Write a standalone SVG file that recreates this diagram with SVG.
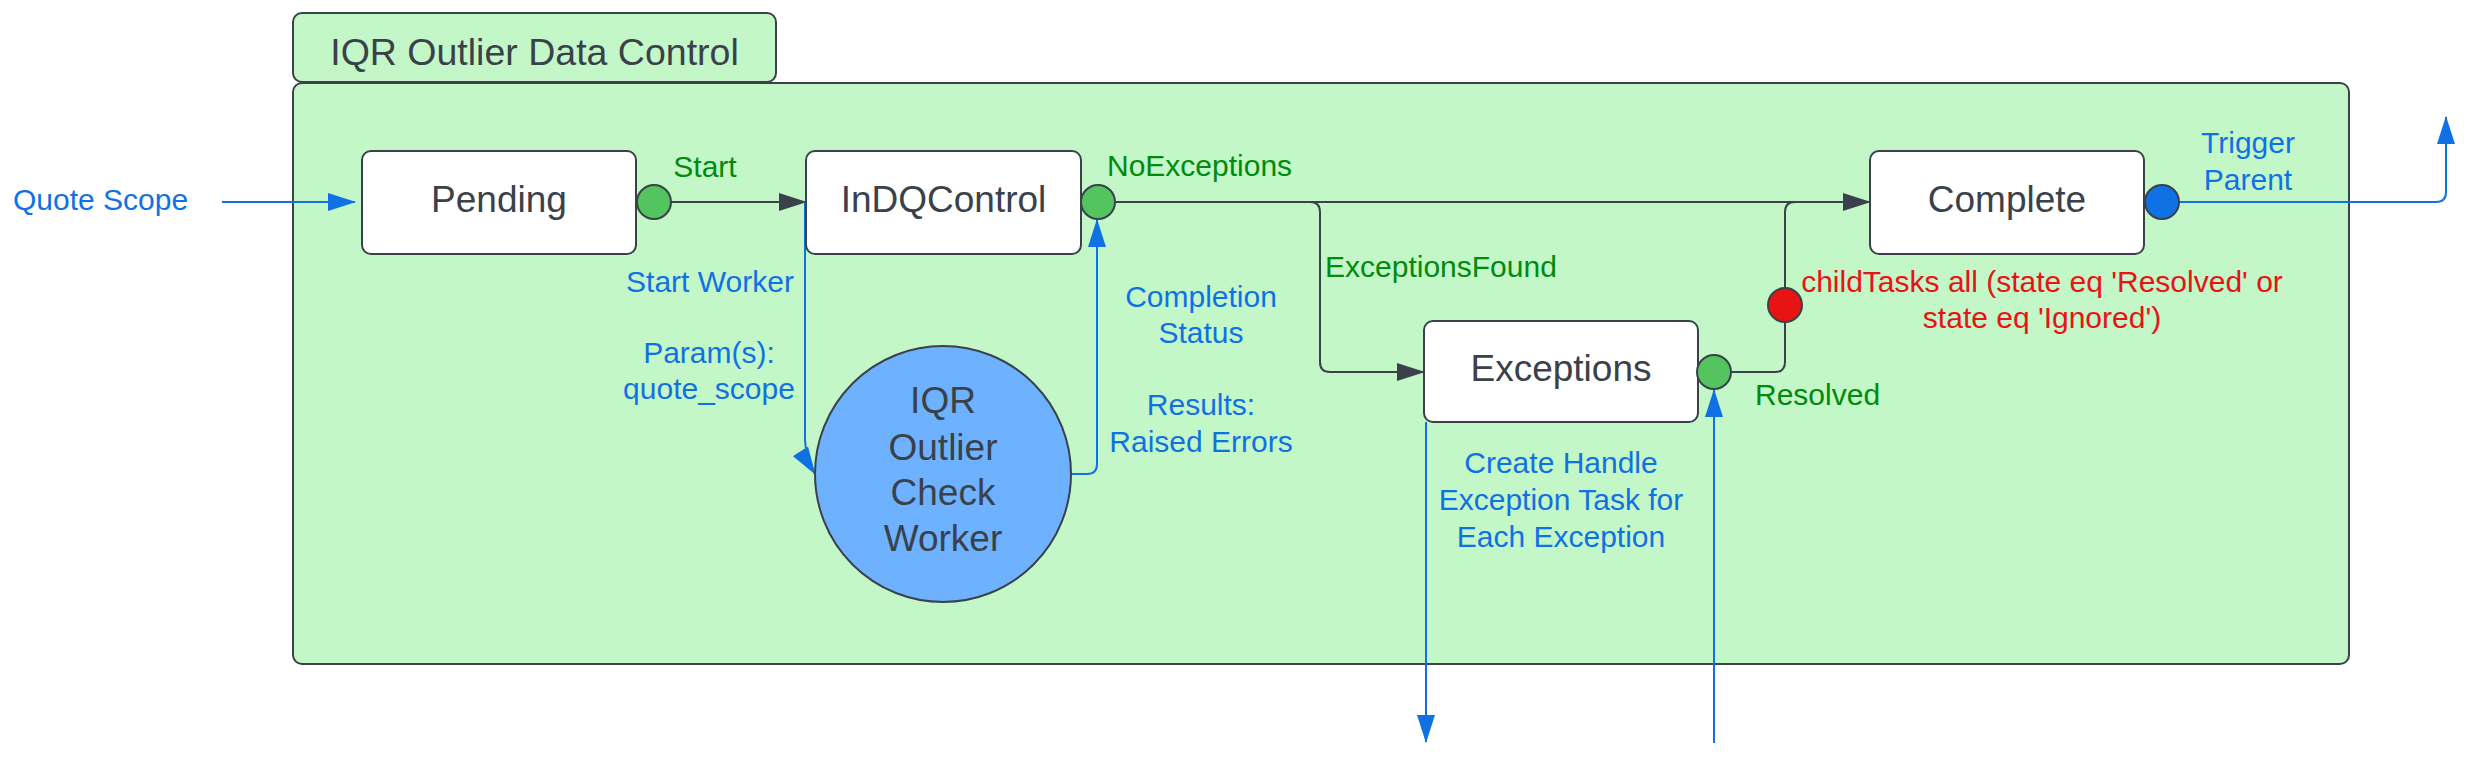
<svg xmlns="http://www.w3.org/2000/svg" width="2477" height="775" viewBox="0 0 2477 775">
<style>
text{font-family:"Liberation Sans",Arial,sans-serif}
.node{fill:#ffffff;stroke:#3a414a;stroke-width:2}
.nl{font-size:37px;fill:#3a414a;text-anchor:middle}
.g{font-size:30px;fill:#008a0e}
.b{font-size:30px;fill:#1071e5}
.r{font-size:30px;fill:#e81313;text-anchor:middle}
.c{text-anchor:middle}
.dk{fill:none;stroke:#3a414a;stroke-width:2}
.bl{fill:none;stroke:#1071e5;stroke-width:2}
.dot{stroke:#3a414a;stroke-width:2}
</style>
<defs>
<marker id="ad" markerWidth="28" markerHeight="18" refX="27" refY="9" orient="auto" markerUnits="userSpaceOnUse">
<path d="M0,0 L28,9 L0,18 Z" fill="#3a414a"/>
</marker>
<marker id="ab" markerWidth="28" markerHeight="18" refX="27" refY="9" orient="auto" markerUnits="userSpaceOnUse">
<path d="M0,0 L28,9 L0,18 Z" fill="#1071e5"/>
</marker>
</defs>
<rect width="2477" height="775" fill="#ffffff"/>
<g id="container">
<rect x="293" y="13" width="483" height="69" rx="9" fill="#c3f7c8" stroke="#3a414a" stroke-width="2"/>
<text x="534.5" y="65" style="font-size:37.5px;fill:#3a414a;text-anchor:middle">IQR Outlier Data Control</text>
<rect x="293" y="83" width="2056" height="581" rx="9" fill="#c3f7c8" stroke="#3a414a" stroke-width="2"/>
</g>
<g id="connectors">
<path class="bl" d="M222,202 L355,202" marker-end="url(#ab)"/>
<path class="dk" d="M671,202 L806,202" marker-end="url(#ad)"/>
<path class="bl" d="M805,202 L805,440 Q806,460 815,474" marker-end="url(#ab)"/>
<path class="bl" d="M1071,474 L1087,474 Q1097,474 1097,464 L1097,220" marker-end="url(#ab)"/>
<path class="dk" d="M1115,202 L1870,202" marker-end="url(#ad)"/>
<path class="dk" d="M1310,202 Q1320,202 1320,212 L1320,362 Q1320,372 1330,372 L1424,372" marker-end="url(#ad)"/>
<path class="dk" d="M1732,372 L1775,372 Q1785,372 1785,362 L1785,212 Q1785,202 1795,202"/>
<path class="bl" d="M2179,202 L2436,202 Q2446,202 2446,192 L2446,117" marker-end="url(#ab)"/>
<path class="bl" d="M1426,422 L1426,742" marker-end="url(#ab)"/>
<path class="bl" d="M1714,743 L1714,390" marker-end="url(#ab)"/>
</g>
<g id="pending">
<rect class="node" x="362" y="151" width="274" height="103" rx="9"/>
<text class="nl" x="499" y="212">Pending</text>
<circle class="dot" cx="654" cy="202" r="17" fill="#54c45e"/>
</g>
<g id="indqcontrol">
<rect class="node" x="806" y="151" width="275" height="103" rx="9"/>
<text class="nl" x="943.5" y="212">InDQControl</text>
<circle class="dot" cx="1098" cy="202" r="17" fill="#54c45e"/>
</g>
<g id="worker">
<circle cx="943" cy="474" r="128" fill="#6db1ff" stroke="#3a414a" stroke-width="2"/>
<text class="nl" x="943" y="413">IQR</text>
<text class="nl" x="943" y="460">Outlier</text>
<text class="nl" x="943" y="505">Check</text>
<text class="nl" x="943" y="551">Worker</text>
</g>
<g id="exceptions">
<rect class="node" x="1424" y="321" width="274" height="101" rx="9"/>
<text class="nl" x="1561" y="381">Exceptions</text>
<circle class="dot" cx="1714" cy="372" r="17" fill="#54c45e"/>
</g>
<g id="complete">
<rect class="node" x="1870" y="151" width="274" height="103" rx="9"/>
<text class="nl" x="2007" y="212">Complete</text>
<circle class="dot" cx="2162" cy="202" r="17" fill="#1071e5"/>
</g>
<g id="gate">
<circle class="dot" cx="1785" cy="305" r="17" fill="#e81313"/>
</g>
<g id="labels">
<text class="b" x="13" y="210">Quote Scope</text>
<text class="g c" x="705" y="177">Start</text>
<text class="b c" x="710" y="292">Start Worker</text>
<text class="b c" x="709" y="363">Param(s):</text>
<text class="b c" x="709" y="399">quote_scope</text>
<text class="g" x="1107" y="176">NoExceptions</text>
<text class="g" x="1325" y="277">ExceptionsFound</text>
<text class="b c" x="1201" y="307">Completion</text>
<text class="b c" x="1201" y="343">Status</text>
<text class="b c" x="1201" y="415">Results:</text>
<text class="b c" x="1201" y="452">Raised Errors</text>
<text class="b c" x="1561" y="473">Create Handle</text>
<text class="b c" x="1561" y="510">Exception Task for</text>
<text class="b c" x="1561" y="547">Each Exception</text>
<text class="g" x="1755" y="405">Resolved</text>
<text class="r" x="2042" y="292">childTasks all (state eq 'Resolved' or</text>
<text class="r" x="2042" y="328">state eq 'Ignored')</text>
<text class="b c" x="2248" y="153">Trigger</text>
<text class="b c" x="2248" y="190">Parent</text>
</g>
</svg>
